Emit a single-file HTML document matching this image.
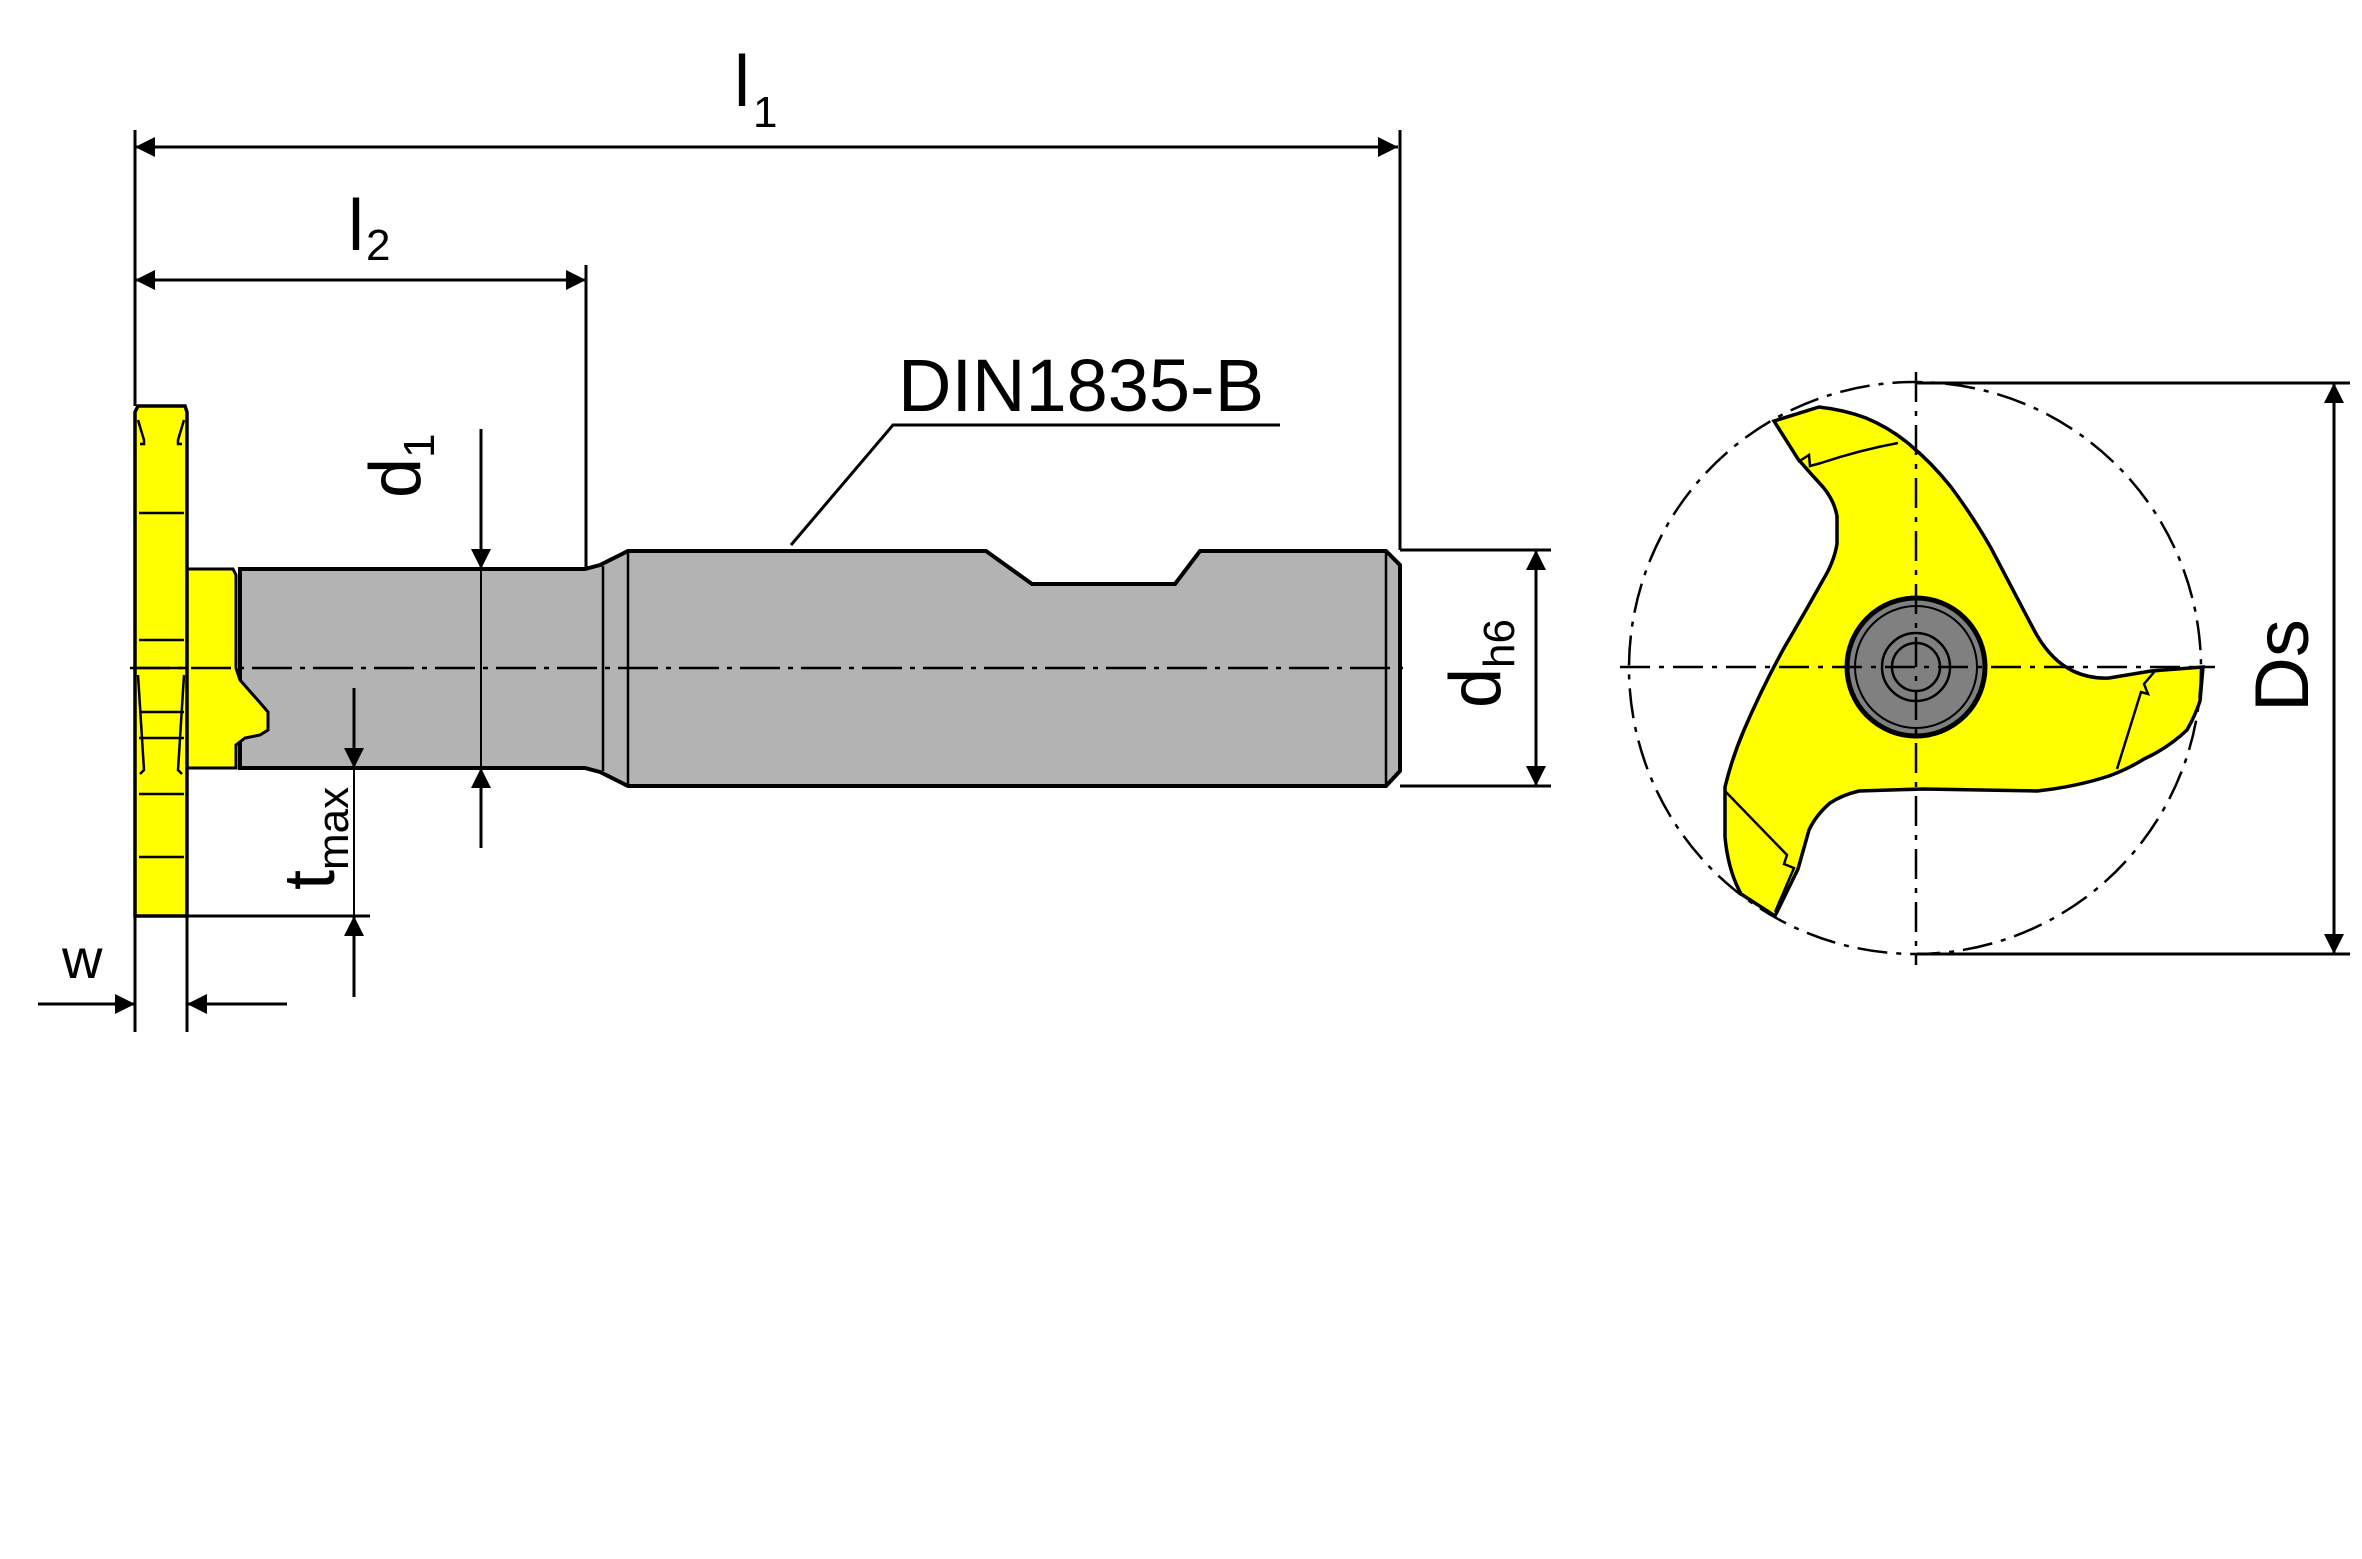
<!DOCTYPE html>
<html><head><meta charset="utf-8"><style>html,body{margin:0;padding:0;background:#fff}svg{display:block}</style></head>
<body>
<svg width="2362" height="1559" viewBox="0 0 2362 1559" xmlns="http://www.w3.org/2000/svg" font-family="Liberation Sans, sans-serif">
<defs>
<marker id="a" viewBox="0 0 10 10" refX="10" refY="5" markerWidth="50" markerHeight="20" markerUnits="userSpaceOnUse" orient="auto-start-reverse"><path d="M0,0 L10,5 L0,10 Z" fill="#000"/></marker>
</defs>
<g stroke="#000" stroke-width="3" fill="none">
<line x1="135" y1="130" x2="135" y2="406"/>
<line x1="1400" y1="130" x2="1400" y2="550"/>
<line x1="586" y1="265" x2="586" y2="569"/>
<line x1="135" y1="147" x2="1398" y2="147" marker-start="url(#a)" marker-end="url(#a)"/>
<line x1="135" y1="280" x2="586" y2="280" marker-start="url(#a)" marker-end="url(#a)"/>
<polyline points="1280,425 893,425 791,545"/>
</g>
<path d="M240,569 L585,569 L600,565 L628,551 L986,551 L1032,584 L1175,584 L1200,551 L1386,551 L1400,565 L1400,771 L1386,786 L628,786 L600,772 L585,768 L240,768 Z" fill="#b3b3b3" stroke="#000" stroke-width="4"/>
<g stroke="#000" stroke-width="2.5">
<line x1="603" y1="566" x2="603" y2="771"/>
<line x1="628" y1="551" x2="628" y2="786"/>
<line x1="1386" y1="551" x2="1386" y2="786"/>
</g>
<path d="M187,569 L233,569 L236,575 L236,668 L240,680 L262,705 L268,712 L268,730 L260,735 L245,738 L236,745 L236,768 L187,768 Z" fill="#ffff00" stroke="#000" stroke-width="3"/>
<path d="M135,412 L138,406 L185,406 L187,412 L187,916 L135,916 Z" fill="#ffff00" stroke="#000" stroke-width="3.5"/>
<g stroke="#000" stroke-width="2.5" fill="none">
<line x1="139" y1="513" x2="184" y2="513"/>
<line x1="139" y1="640" x2="184" y2="640"/>
<line x1="135" y1="668" x2="187" y2="668"/>
<line x1="139" y1="712" x2="184" y2="712"/>
<line x1="139" y1="738" x2="184" y2="738"/>
<line x1="139" y1="794" x2="184" y2="794"/>
<line x1="139" y1="857" x2="184" y2="857"/>
<path d="M138,420 L144,440 L144,444 L140,444"/><path d="M184,420 L178,440 L178,444 L182,444"/>
<path d="M138,675 L144,770 L140,774"/><path d="M184,675 L178,770 L182,774"/>
</g>
<line x1="130" y1="668" x2="1410" y2="668" stroke="#000" stroke-width="2.5" stroke-dasharray="40,8,5,8"/>
<g stroke="#000" stroke-width="3" fill="none">
<line x1="481" y1="429" x2="481" y2="569" marker-end="url(#a)"/>
<line x1="481" y1="848" x2="481" y2="768" marker-end="url(#a)"/>
<line x1="481" y1="569" x2="481" y2="768" stroke-width="2"/>
<line x1="187" y1="916" x2="370" y2="916"/>
<line x1="354" y1="688" x2="354" y2="768" marker-end="url(#a)"/>
<line x1="354" y1="997" x2="354" y2="916" marker-end="url(#a)"/>
<line x1="354" y1="768" x2="354" y2="916" stroke-width="2"/>
<line x1="135" y1="916" x2="135" y2="1032"/>
<line x1="187" y1="916" x2="187" y2="1032"/>
<line x1="38" y1="1004" x2="135" y2="1004" marker-end="url(#a)"/>
<line x1="287" y1="1004" x2="187" y2="1004" marker-end="url(#a)"/>
<line x1="1400" y1="550" x2="1551" y2="550"/>
<line x1="1400" y1="786" x2="1551" y2="786"/>
<line x1="1536" y1="550" x2="1536" y2="786" marker-start="url(#a)" marker-end="url(#a)"/>
<line x1="1917" y1="383" x2="2350" y2="383"/>
<line x1="1917" y1="954" x2="2350" y2="954"/>
<line x1="2334" y1="383" x2="2334" y2="954" marker-start="url(#a)" marker-end="url(#a)"/>
</g>
<path d="M1774,421 L1819,407 Q1845,410 1866,418 Q1890,428 1909,444 Q1932,463 1951,487 Q1972,515 1991,548 Q2013,590 2034,630 Q2050,660 2073,671 Q2090,679 2109,678 L2151,671 L2203,667 L2200,701 Q2195,716 2187,730 Q2168,748 2144,759 Q2128,769 2109,776 Q2075,787 2037,791 L1923,789 L1859,791 Q1842,795 1830,803 Q1816,815 1809,830 L1798,869 L1775,916 L1741,894 Q1728,870 1725,837 L1725,787 Q1732,758 1744,730 Q1762,688 1784,648 Q1804,614 1823,580 Q1834,562 1837,544 L1837,516 Q1834,500 1823,487 Q1810,473 1798,459 Z" fill="#ffff00" stroke="#000" stroke-width="3.5"/>
<g stroke="#000" stroke-width="2.5" fill="none">
<path d="M1798,462 L1809,455 L1810,466 L1821,463 Q1860,450 1898,443"/>
<path d="M2155,671 L2144,684 L2148,694 L2141,692 L2117,769"/>
<path d="M1725,791 L1787,855 L1784,864 L1794,868 L1775,912"/>
</g>
<circle cx="1916" cy="667" r="69" fill="#808080" stroke="#000" stroke-width="5"/>
<circle cx="1916" cy="667" r="61" fill="none" stroke="#000" stroke-width="2"/>
<circle cx="1916" cy="667" r="34" fill="none" stroke="#000" stroke-width="2.5"/>
<circle cx="1916" cy="667" r="24" fill="none" stroke="#000" stroke-width="2.5"/>
<circle cx="1915" cy="668" r="286" fill="none" stroke="#000" stroke-width="2.5" stroke-dasharray="30,9,5,9"/>
<line x1="1620" y1="667" x2="2215" y2="667" stroke="#000" stroke-width="2.5" stroke-dasharray="30,9,5,9"/>
<line x1="1916" y1="372" x2="1916" y2="965" stroke="#000" stroke-width="2.5" stroke-dasharray="30,9,5,9"/>
<g fill="#000">
<text x="734" y="106" font-size="72">l</text><text x="753" y="127" font-size="44">1</text>
<text x="348" y="250" font-size="72">l</text><text x="366" y="260" font-size="44">2</text>
<text x="898" y="411" font-size="74">DIN1835-B</text>
<text x="62" y="978" font-size="56">w</text>
<text transform="translate(420,498) rotate(-90)" font-size="72">d<tspan font-size="44" dy="14">1</tspan></text>
<text transform="translate(334,890) rotate(-90)" font-size="72">t<tspan font-size="44" dy="14">max</tspan></text>
<text transform="translate(1500,708) rotate(-90)" font-size="72">d<tspan font-size="44" dy="14">h6</tspan></text>
<text transform="translate(2308,712) rotate(-90)" font-size="76">Ds</text>
</g>
</svg>
</body></html>
